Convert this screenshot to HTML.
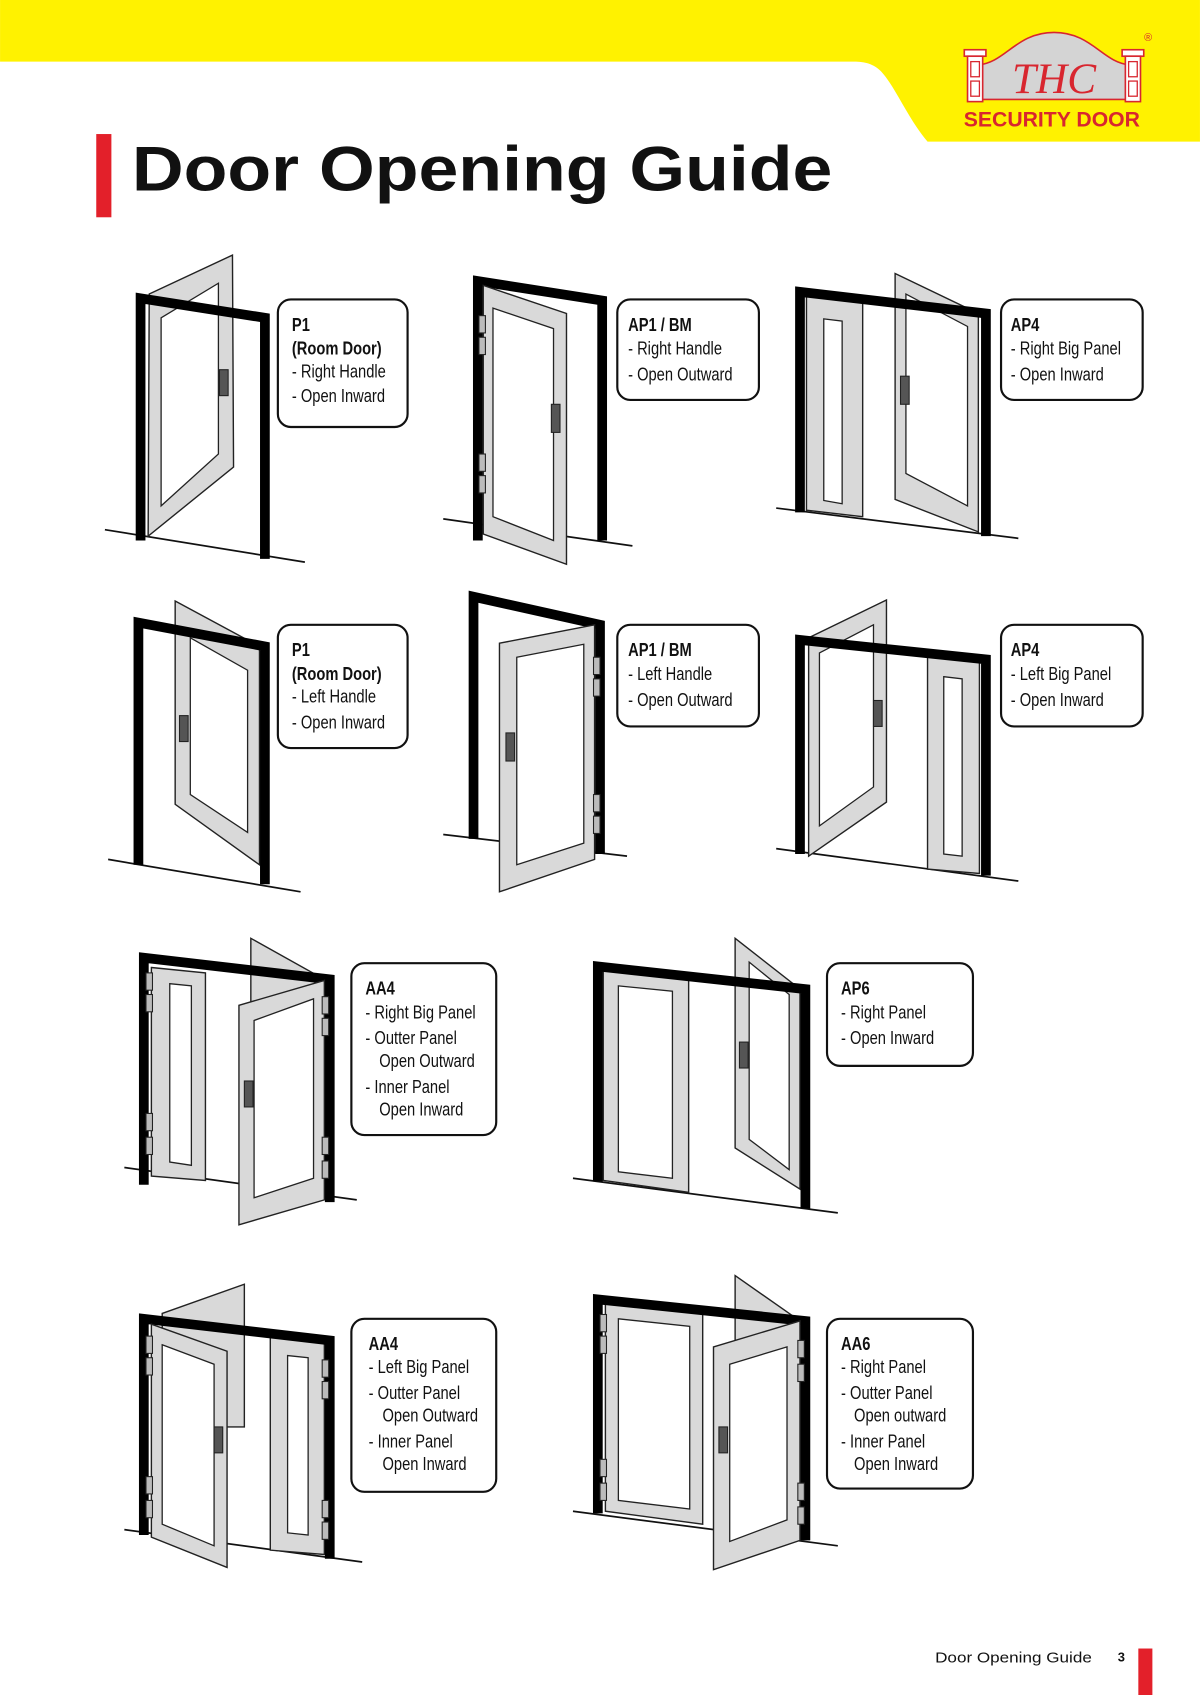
<!DOCTYPE html>
<html><head><meta charset="utf-8"><style>
html,body{margin:0;padding:0;background:#fff;}
svg{display:block;}
.t{font-family:"Liberation Sans",sans-serif;font-size:17px;fill:#111;}
.b{font-weight:bold;}
.box{fill:#fff;stroke:#111;stroke-width:2;}
.fr{fill:none;stroke:#000;stroke-width:9;stroke-linejoin:miter;}
.lf{fill:#d9d9d9;stroke:#222;stroke-width:1.3;}
.ip{fill:#fff;stroke:#222;stroke-width:1.2;}
.fl{stroke:#111;stroke-width:1.6;}
.hg{fill:#bbb;stroke:#222;stroke-width:1;}
.hd{fill:#555;stroke:#222;stroke-width:1;}
</style></head><body>
<svg width="1200" height="1695" viewBox="0 0 1110 1568" xmlns="http://www.w3.org/2000/svg">
<path d="M0 0H1110V131H858C840 110 828 80 815 66C808 59 800 57 790 57H0Z" fill="#fff200"/>
<path d="M905 60C930 58 940 30 975 30C1010 30 1020 58 1045 60V92H905Z" fill="#d4d4d4" stroke="#d8262f" stroke-width="1.5"/>
<rect x="892" y="46" width="20" height="6" fill="#fff" stroke="#d8262f" stroke-width="1.5"/>
<rect x="895" y="52" width="14" height="42" fill="#fff" stroke="#d8262f" stroke-width="1.5"/>
<rect x="898" y="57" width="8" height="14" fill="none" stroke="#d8262f" stroke-width="1.2"/>
<rect x="898" y="75" width="8" height="14" fill="none" stroke="#d8262f" stroke-width="1.2"/>
<rect x="1038" y="46" width="20" height="6" fill="#fff" stroke="#d8262f" stroke-width="1.5"/>
<rect x="1041" y="52" width="14" height="42" fill="#fff" stroke="#d8262f" stroke-width="1.5"/>
<rect x="1044" y="57" width="8" height="14" fill="none" stroke="#d8262f" stroke-width="1.2"/>
<rect x="1044" y="75" width="8" height="14" fill="none" stroke="#d8262f" stroke-width="1.2"/>
<text x="975" y="86" text-anchor="middle" font-family="Liberation Serif,serif" font-style="italic" font-size="40" fill="#d8262f">THC</text>
<text x="1062" y="38" text-anchor="middle" font-family="Liberation Sans,sans-serif" font-size="10" fill="#d8262f">®</text>
<text x="973" y="117" text-anchor="middle" font-family="Liberation Sans,sans-serif" font-weight="bold" font-size="20" fill="#d8262f" textLength="163" lengthAdjust="spacingAndGlyphs">SECURITY DOOR</text>
<rect x="89" y="124" width="14" height="77" fill="#e3202a"/>
<text x="122" y="176" font-family="Liberation Sans,sans-serif" font-weight="bold" font-size="58" fill="#111" textLength="648" lengthAdjust="spacingAndGlyphs">Door Opening Guide</text>

<!-- Door 1 -->
<line class="fl" x1="97" y1="490" x2="282" y2="520"/>
<polygon class="lf" points="138,272 215,236 216,432 137,496"/>
<polygon class="ip" points="149,294 202,262 202,420 149,468"/>
<polyline class="fr" points="130,500 130,276 245,294 245,517"/>
<rect class="hd" x="203" y="342" width="8" height="24"/>
<rect class="box" x="257" y="277" width="120" height="118" rx="12"/>
<g transform="translate(270,0) scale(0.8,1)"><text class="t b" x="0" y="306">P1</text><text class="t b" x="0" y="328">(Room Door)</text>
<text class="t" x="0" y="349">- Right Handle</text><text class="t" x="0" y="372">- Open Inward</text></g>

<!-- Door 2 -->
<line class="fl" x1="410" y1="480" x2="585" y2="505"/>
<polyline class="fr" points="442,500 442,260 557,278 557,500"/>
<polygon class="lf" points="447,264 524,290 524,522 447,494"/>
<polygon class="ip" points="456,285 512,304 512,500 456,478"/>
<rect class="hg" x="443" y="292" width="6" height="16"/><rect class="hg" x="443" y="312" width="6" height="16"/>
<rect class="hg" x="443" y="420" width="6" height="16"/><rect class="hg" x="443" y="440" width="6" height="16"/>
<rect class="hd" x="510" y="374" width="8" height="26"/>
<rect class="box" x="571" y="277" width="131" height="93" rx="12"/>
<g transform="translate(581,0) scale(0.8,1)"><text class="t b" x="0" y="306">AP1 / BM</text>
<text class="t" x="0" y="328">- Right Handle</text><text class="t" x="0" y="352">- Open Outward</text></g>

<!-- Door 3 -->
<line class="fl" x1="718" y1="470" x2="942" y2="498"/>
<polygon class="lf" points="746,274 798,280 798,478 746,472"/>
<polygon class="ip" points="762,295 779,297 779,466 762,463"/>
<polygon class="lf" points="828,253 905,290 905,492 828,462"/>
<polygon class="ip" points="838,272 895,302 895,468 838,438"/>
<polyline class="fr" points="740,474 740,270 912,290 912,496"/>
<rect class="hd" x="833" y="348" width="8" height="26"/>
<rect class="box" x="926" y="277" width="131" height="93" rx="12"/>
<g transform="translate(935,0) scale(0.8,1)"><text class="t b" x="0" y="306">AP4</text>
<text class="t" x="0" y="328">- Right Big Panel</text><text class="t" x="0" y="352">- Open Inward</text></g>

<!-- Door 4 -->
<line class="fl" x1="100" y1="795" x2="278" y2="825"/>
<polygon class="lf" points="162,556 240,598 240,800 162,744"/>
<polygon class="ip" points="176,590 229,620 229,770 176,735"/>
<polyline class="fr" points="128,800 128,576 245,598 245,818"/>
<rect class="hd" x="166" y="662" width="8" height="24"/>
<rect class="box" x="257" y="578" width="120" height="114" rx="12"/>
<g transform="translate(270,0) scale(0.8,1)"><text class="t b" x="0" y="607">P1</text><text class="t b" x="0" y="629">(Room Door)</text>
<text class="t" x="0" y="650">- Left Handle</text><text class="t" x="0" y="674">- Open Inward</text></g>

<!-- Door 5 -->
<line class="fl" x1="410" y1="772" x2="580" y2="792"/>
<polyline class="fr" points="438,776 438,552 555,578 555,790"/>
<polygon class="lf" points="462,595 550,578 550,795 462,825"/>
<polygon class="ip" points="478,608 540,596 540,780 478,800"/>
<rect class="hg" x="549" y="608" width="6" height="16"/><rect class="hg" x="549" y="628" width="6" height="16"/>
<rect class="hg" x="549" y="735" width="6" height="16"/><rect class="hg" x="549" y="755" width="6" height="16"/>
<rect class="hd" x="468" y="678" width="8" height="26"/>
<rect class="box" x="571" y="578" width="131" height="94" rx="12"/>
<g transform="translate(581,0) scale(0.8,1)"><text class="t b" x="0" y="607">AP1 / BM</text>
<text class="t" x="0" y="629">- Left Handle</text><text class="t" x="0" y="653">- Open Outward</text></g>

<!-- Door 6 -->
<line class="fl" x1="718" y1="785" x2="942" y2="815"/>
<polygon class="lf" points="858,606 906,611 906,808 858,804"/>
<polygon class="ip" points="873,626 890,628 890,792 873,790"/>
<polygon class="lf" points="748,590 820,555 820,742 748,792"/>
<polygon class="ip" points="758,604 808,578 808,728 758,764"/>
<polyline class="fr" points="740,790 740,592 912,610 912,810"/>
<rect class="hd" x="808" y="648" width="8" height="24"/>
<rect class="box" x="926" y="578" width="131" height="94" rx="12"/>
<g transform="translate(935,0) scale(0.8,1)"><text class="t b" x="0" y="607">AP4</text>
<text class="t" x="0" y="629">- Left Big Panel</text><text class="t" x="0" y="653">- Open Inward</text></g>

<!-- Door 7 -->
<line class="fl" x1="115" y1="1080" x2="330" y2="1110"/>
<polygon class="lf" points="232,868 300,906 300,1000 232,1000"/>
<polygon class="lf" points="140,895 190,900 190,1092 140,1088"/>
<polygon class="ip" points="157,910 177,912 177,1078 157,1075"/>
<polyline class="fr" points="133,1096 133,886 305,906 305,1112"/>
<polygon class="lf" points="221,930 300,907 300,1110 221,1133"/>
<polygon class="ip" points="235,944 290,924 290,1090 235,1108"/>
<rect class="hg" x="135" y="900" width="6" height="16"/><rect class="hg" x="135" y="920" width="6" height="16"/>
<rect class="hg" x="135" y="1030" width="6" height="16"/><rect class="hg" x="135" y="1052" width="6" height="16"/>
<rect class="hg" x="298" y="922" width="6" height="16"/><rect class="hg" x="298" y="942" width="6" height="16"/>
<rect class="hg" x="298" y="1052" width="6" height="16"/><rect class="hg" x="298" y="1074" width="6" height="16"/>
<rect class="hd" x="226" y="1000" width="8" height="24"/>
<rect class="box" x="325" y="891" width="134" height="159" rx="12"/>
<g transform="translate(338,0) scale(0.8,1)"><text class="t b" x="0" y="920">AA4</text>
<text class="t" x="0" y="942">- Right Big Panel</text>
<text class="t" x="0" y="966">- Outter Panel</text><text class="t" x="16" y="987">Open Outward</text>
<text class="t" x="0" y="1011">- Inner Panel</text><text class="t" x="16" y="1032">Open Inward</text></g>

<!-- Door 8 -->
<line class="fl" x1="530" y1="1090" x2="775" y2="1122"/>
<polygon class="lf" points="558,898 637,905 637,1103 558,1092"/>
<polygon class="ip" points="572,912 622,917 622,1090 572,1084"/>
<polygon class="lf" points="680,868 740,915 740,1100 680,1062"/>
<polygon class="ip" points="693,890 730,920 730,1082 693,1054"/>
<polyline class="fr" points="553,1093 553,894 745,915 745,1118"/>
<rect class="hd" x="684" y="964" width="8" height="24"/>
<rect class="box" x="765" y="891" width="135" height="95" rx="12"/>
<g transform="translate(778,0) scale(0.8,1)"><text class="t b" x="0" y="920">AP6</text>
<text class="t" x="0" y="942">- Right Panel</text><text class="t" x="0" y="966">- Open Inward</text></g>

<!-- Door 9 -->
<line class="fl" x1="115" y1="1415" x2="335" y2="1445"/>
<polygon class="lf" points="150,1215 226,1188 226,1320 150,1320"/>
<polygon class="lf" points="250,1237 300,1242 300,1438 250,1434"/>
<polygon class="ip" points="266,1254 285,1256 285,1420 266,1418"/>
<polyline class="fr" points="133,1420 133,1220 305,1240 305,1442"/>
<polygon class="lf" points="140,1225 210,1250 210,1450 140,1422"/>
<polygon class="ip" points="150,1244 198,1262 198,1430 150,1410"/>
<rect class="hg" x="135" y="1236" width="6" height="16"/><rect class="hg" x="135" y="1256" width="6" height="16"/>
<rect class="hg" x="135" y="1366" width="6" height="16"/><rect class="hg" x="135" y="1388" width="6" height="16"/>
<rect class="hg" x="298" y="1258" width="6" height="16"/><rect class="hg" x="298" y="1278" width="6" height="16"/>
<rect class="hg" x="298" y="1388" width="6" height="16"/><rect class="hg" x="298" y="1408" width="6" height="16"/>
<rect class="hd" x="198" y="1320" width="8" height="24"/>
<rect class="box" x="325" y="1220" width="134" height="160" rx="12"/>
<g transform="translate(341,0) scale(0.8,1)"><text class="t b" x="0" y="1249">AA4</text>
<text class="t" x="0" y="1270">- Left Big Panel</text>
<text class="t" x="0" y="1294">- Outter Panel</text><text class="t" x="16" y="1315">Open Outward</text>
<text class="t" x="0" y="1339">- Inner Panel</text><text class="t" x="16" y="1360">Open Inward</text></g>

<!-- Door 10 -->
<line class="fl" x1="530" y1="1398" x2="775" y2="1430"/>
<polygon class="lf" points="680,1180 740,1222 740,1320 680,1320"/>
<polygon class="lf" points="560,1205 650,1212 650,1410 560,1398"/>
<polygon class="ip" points="572,1220 638,1227 638,1396 572,1388"/>
<polyline class="fr" points="553,1400 553,1202 745,1222 745,1425"/>
<polygon class="lf" points="660,1246 740,1222 740,1425 660,1452"/>
<polygon class="ip" points="675,1262 728,1246 728,1406 675,1426"/>
<rect class="hg" x="555" y="1216" width="6" height="16"/><rect class="hg" x="555" y="1236" width="6" height="16"/>
<rect class="hg" x="555" y="1350" width="6" height="16"/><rect class="hg" x="555" y="1372" width="6" height="16"/>
<rect class="hg" x="738" y="1240" width="6" height="16"/><rect class="hg" x="738" y="1262" width="6" height="16"/>
<rect class="hg" x="738" y="1372" width="6" height="16"/><rect class="hg" x="738" y="1394" width="6" height="16"/>
<rect class="hd" x="665" y="1320" width="8" height="24"/>
<rect class="box" x="765" y="1220" width="135" height="157" rx="12"/>
<g transform="translate(778,0) scale(0.8,1)"><text class="t b" x="0" y="1249">AA6</text>
<text class="t" x="0" y="1270">- Right Panel</text>
<text class="t" x="0" y="1294">- Outter Panel</text><text class="t" x="15" y="1315">Open outward</text>
<text class="t" x="0" y="1339">- Inner Panel</text><text class="t" x="15" y="1360">Open Inward</text></g>

<text x="865" y="1538" font-family="Liberation Sans,sans-serif" font-size="14" fill="#111" textLength="145" lengthAdjust="spacingAndGlyphs">Door Opening Guide</text>
<text x="1034" y="1537" font-family="Liberation Sans,sans-serif" font-weight="bold" font-size="12" fill="#111">3</text>
<rect x="1053" y="1525" width="13" height="43" fill="#e3202a"/>
</svg>
</body></html>
